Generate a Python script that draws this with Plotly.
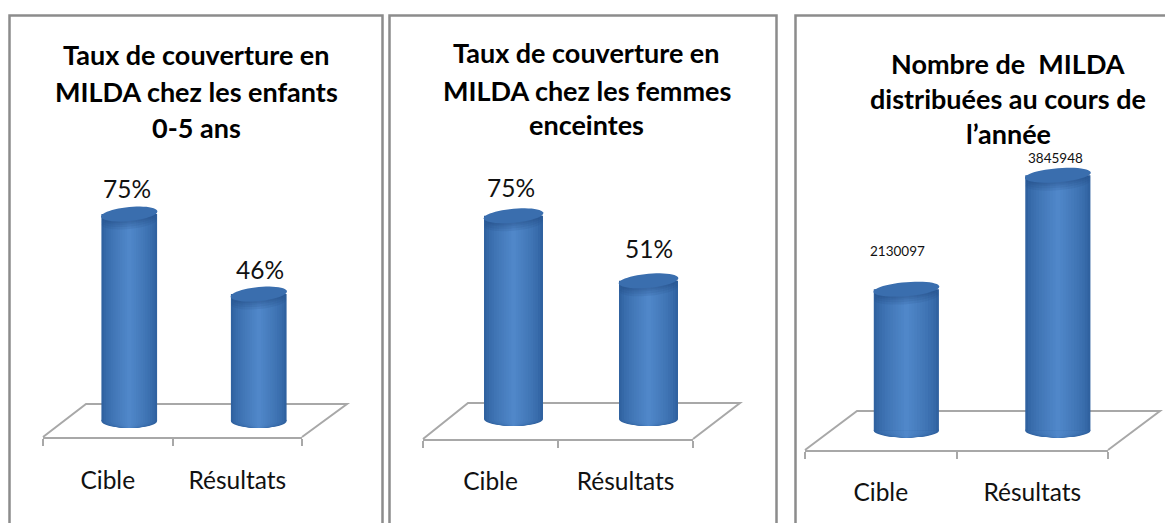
import numpy as np
import plotly.graph_objects as go

W, H = 1165, 523

# ---- data ----
categories = ["Cible", "Résultats"]
enfants_values = [75, 46]
femmes_values = [75, 51]
milda_values = [2130097, 3845948]
enfants_labels = ["75%", "46%"]
femmes_labels = ["75%", "51%"]
milda_labels = ["2130097", "3845948"]
enfants_title = ["Taux de couverture en", "MILDA chez les enfants", "0-5 ans"]
femmes_title = ["Taux de couverture en", "MILDA chez les femmes", "enceintes"]
milda_title = ["Nombre de  MILDA", "distribuées au cours de", "l’année"]

FONT = "Lato, Carlito, Calibri, sans-serif"
GRID = "#a8a8a8"
FRAME = "#8c8c8c"
EDGE = (48, 98, 160)
MID = (80, 135, 201)
TOP = "#3a6eae"

panels = [
    dict(values=enfants_values, labels=enfants_labels, title=enfants_title,
         fx0=43, fx1=302, fy=437, bx0=86, bx1=347, by=404, shift=21.5, zero=421, ppu=2.76, ymax=100,
         barw=0.43, lab_font=24.5, lab_shift=[(-2, 26), (1, 25)],
         title_x=196, title_y=[55, 91, 127], cat_stand=21),
    dict(values=femmes_values, labels=femmes_labels, title=femmes_title,
         fx0=423, fx1=693, fy=439, bx0=468, bx1=740, by=403, shift=23, zero=419, ppu=2.71, ymax=100,
         barw=0.437, lab_font=24.5, lab_shift=[(-3, 28), (0, 32)],
         title_x=587, title_y=[53, 90, 124], cat_stand=20),
    dict(values=milda_values, labels=milda_labels, title=milda_title,
         fx0=805, fx1=1108, fy=450, bx0=857, bx1=1160, by=411, shift=25.6, zero=430.6, ppu=6.64e-5, ymax=4.5e6,
         barw=0.43, lab_font=13.5, lab_shift=[(-9, 38), (-2, 17)],
         title_x=1008, title_y=[63, 99, 134], cat_stand=20),
]

def px(x):
    return x / W

def py(y):
    return 1 - y / H

fig = go.Figure()
shapes, annotations = [], []
layout = {}
LAYERS = 12

# frames
for x0, x1 in [(9.5, 382.5), (389.5, 776.5), (795.5, 1180)]:
    shapes.append(dict(type="path", xref="paper", yref="paper", layer="below",
                       path=f"M {px(x0)} {py(540)} L {px(x0)} {py(15.5)} L {px(x1)} {py(15.5)} L {px(x1)} {py(540)}",
                       line=dict(color=FRAME, width=2.5)))

def ellipse_path(cx, val, a, b_data, tilt):
    t = np.linspace(0, 2 * np.pi, 49)
    xs = cx + a * np.cos(t)
    ys = val + b_data * np.sin(t) + tilt * np.cos(t)
    return "M " + " L ".join(f"{x:.5f} {y:.5f}" for x, y in zip(xs, ys)) + " Z"

def mix(f):
    c = [int(EDGE[k] + (MID[k] - EDGE[k]) * f) for k in range(3)]
    return f"rgb({c[0]},{c[1]},{c[2]})"

for i, p in enumerate(panels):
    fa, ba = 2 * i + 1, 2 * i + 2
    # floor
    shapes.append(dict(type="path", xref="paper", yref="paper", layer="below",
                       path=f"M {px(p['fx0'])} {py(p['fy'])} L {px(p['bx0'])} {py(p['by'])} "
                            f"L {px(p['bx1'])} {py(p['by'])} L {px(p['fx1'])} {py(p['fy'])}",
                       line=dict(color=GRID, width=2)))
    # front axis: ticks and category labels
    fig.add_trace(go.Scatter(x=categories, y=[0, 0], mode="lines", line=dict(width=0),
                             xaxis=f"x{fa}", yaxis=f"y{fa}", hoverinfo="skip", showlegend=False))
    layout[f"xaxis{fa}"] = dict(domain=[px(p["fx0"]), px(p["fx1"])], anchor=f"y{fa}",
                                type="category", range=[-0.5, 1.5], tickson="boundaries",
                                ticks="outside", ticklen=7, tickwidth=2, tickcolor=GRID,
                                showline=True, linecolor=GRID, linewidth=2, showgrid=False,
                                ticklabelstandoff=p["cat_stand"],
                                tickfont=dict(family=FONT, size=24.5, color="#111111"))
    layout[f"yaxis{fa}"] = dict(domain=[py(p["fy"]), py(p["fy"] - 20)], anchor=f"x{fa}",
                                range=[0, 1], visible=False)
    # bar axes (range reaches a little below zero so the base ellipse is not clipped)
    below = 12 / p["ppu"]
    top_px = p["zero"] - p["ymax"] * p["ppu"]
    layout[f"xaxis{ba}"] = dict(domain=[px(p["fx0"] + p["shift"]), px(p["fx1"] + p["shift"])],
                                anchor=f"y{ba}", type="linear", range=[-0.5, 1.5], visible=False)
    layout[f"yaxis{ba}"] = dict(domain=[py(p["zero"] + 12), py(top_px)], anchor=f"x{ba}",
                                range=[-below, p["ymax"]], visible=False)
    b = 7.0 / p["ppu"]
    tilt = 2.6 / p["ppu"]
    # cylinder body: nested bars light towards the centre
    for k in range(LAYERS):
        f = k / (LAYERS - 1)
        w = p["barw"] * (1 - f * 0.92)
        col = mix(f ** 0.7)
        fig.add_trace(go.Bar(x=[0, 1], y=p["values"], width=w, marker=dict(color=col, line=dict(width=0)),
                             xaxis=f"x{ba}", yaxis=f"y{ba}", hoverinfo="skip", showlegend=False))
        for c in (0, 1):
            shapes.append(dict(type="path", xref=f"x{ba}", yref=f"y{ba}", layer="below",
                               path=ellipse_path(c, 0, w / 2, b, 0.0),
                               fillcolor=col, line=dict(width=0)))
    # cylinder tops, with a soft shadow under the rim
    for c, v in enumerate(p["values"]):
        for d in (5, 3.5, 2, 1):
            shapes.append(dict(type="path", xref=f"x{ba}", yref=f"y{ba}", layer="above",
                               path=ellipse_path(c, v - d * 1.6 / p["ppu"], p["barw"] / 2 * 0.99, b, tilt),
                               fillcolor="rgba(30,70,125,0.13)", line=dict(width=0)))
        shapes.append(dict(type="path", xref=f"x{ba}", yref=f"y{ba}", layer="above",
                           path=ellipse_path(c, v, p["barw"] / 2 * 1.01, b, tilt),
                           fillcolor=TOP, line=dict(width=0)))
    # value labels
    for c, (v, t) in enumerate(zip(p["values"], p["labels"])):
        annotations.append(dict(x=c, y=v, xref=f"x{ba}", yref=f"y{ba}", text=t, showarrow=False,
                                xshift=p["lab_shift"][c][0], yshift=p["lab_shift"][c][1],
                                font=dict(family=FONT, size=p["lab_font"], color="#111111")))
    # title lines
    for line, y in zip(p["title"], p["title_y"]):
        annotations.append(dict(x=px(p["title_x"]), y=py(y), xref="paper", yref="paper", text=f"<b>{line}</b>",
                                showarrow=False, xanchor="center", yanchor="middle",
                                font=dict(family=FONT, size=27, color="#000000")))

fig.update_layout(width=W, height=H, margin=dict(l=0, r=0, t=0, b=0), paper_bgcolor="white",
                  plot_bgcolor="rgba(0,0,0,0)", barmode="overlay", showlegend=False,
                  shapes=shapes, annotations=annotations, **layout)
fig.write_html("out.html", post_script="document.body.style.margin='0';document.body.style.overflow='hidden';",
               config=dict(displayModeBar=False))
